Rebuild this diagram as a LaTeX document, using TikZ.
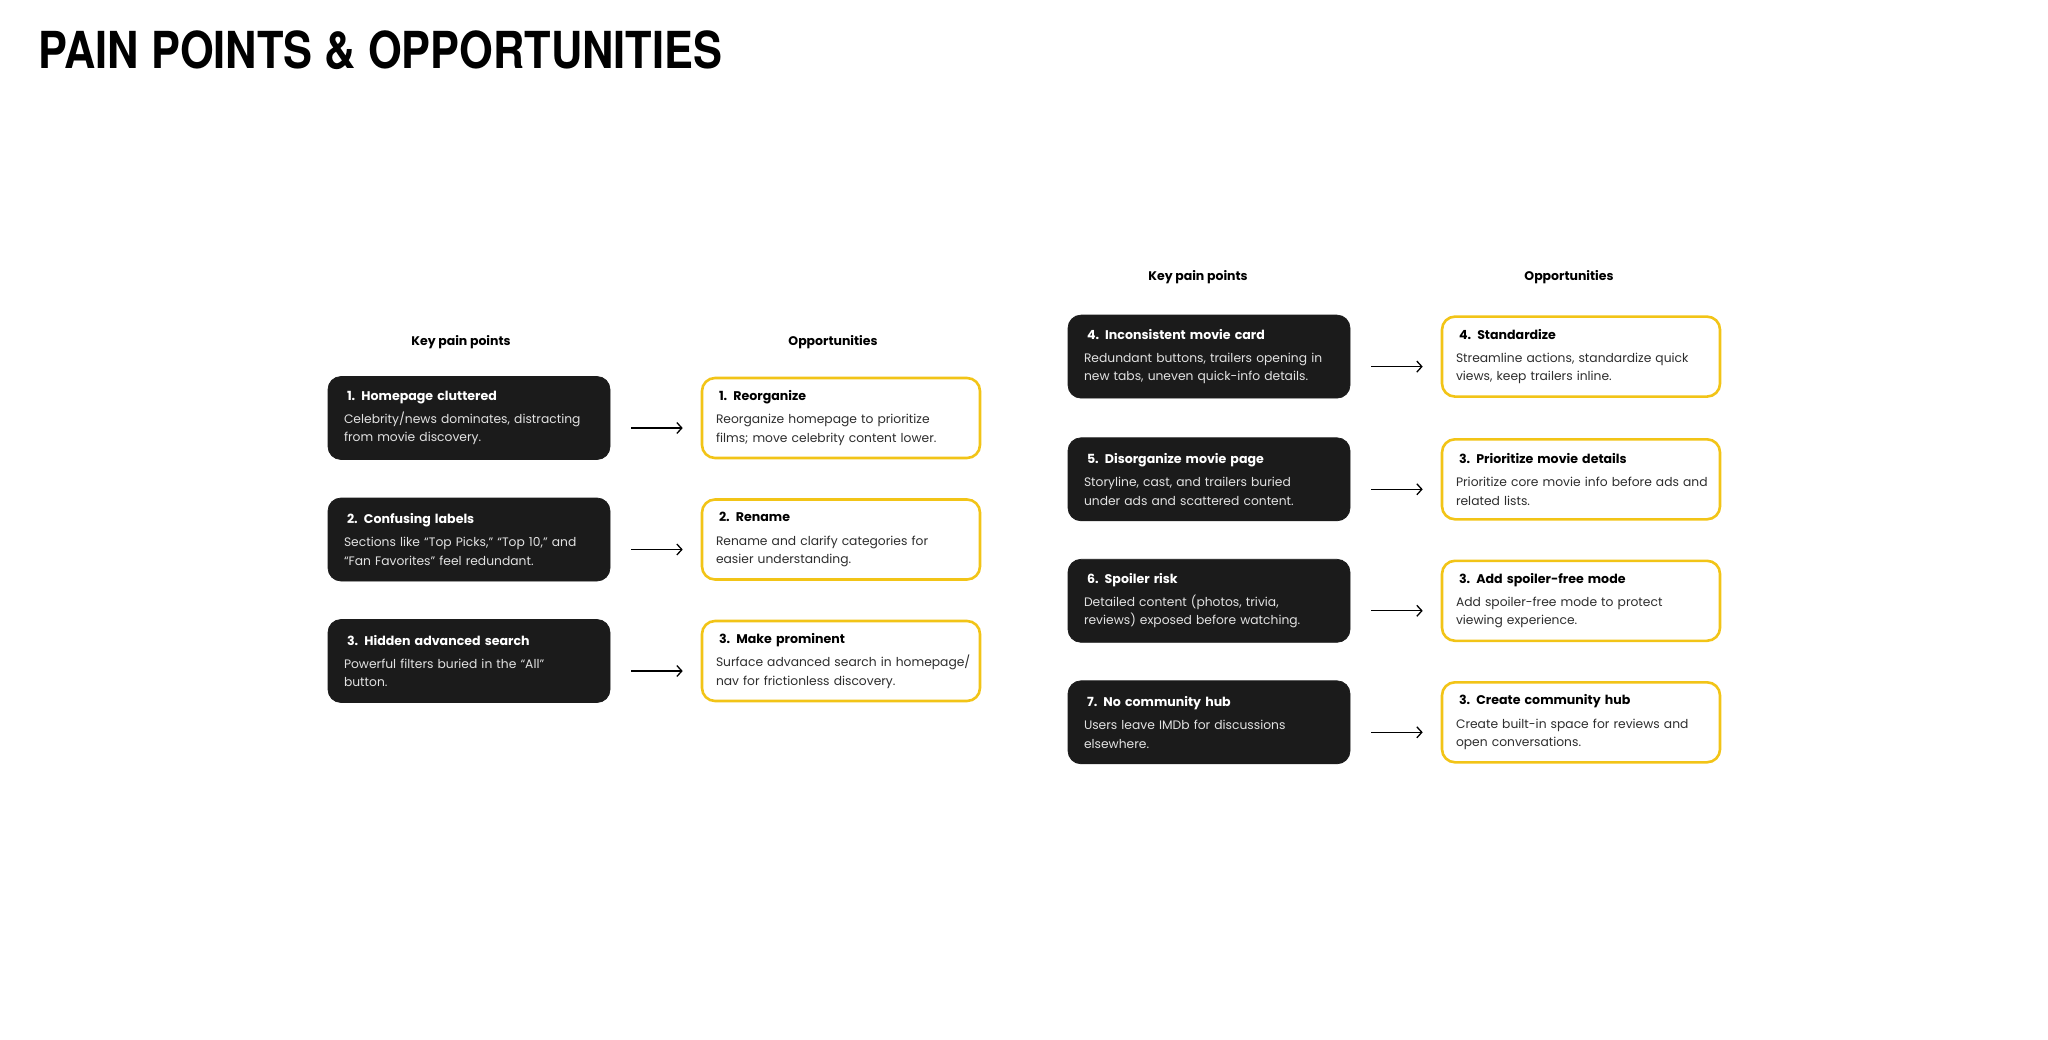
\documentclass[tikz,border=0pt]{standalone}
\usepackage{fontspec}
\setmainfont{Poppins}
\newfontfamily\headfont[FakeStretch=0.85]{TeX Gyre Heros}
\usetikzlibrary{arrows.meta,positioning,calc}
\definecolor{imdbyellow}{HTML}{F2C417}
\definecolor{cardblack}{HTML}{1B1B1B}
\definecolor{cardgrey}{HTML}{E2E2E2}
\definecolor{bodygrey}{HTML}{2E2E2E}
\tikzset{every picture/.style={line width=0.75pt}}
\tikzset{
  painbox/.style={rounded corners=13pt, fill=cardblack, draw=cardblack, minimum width=282pt,
    minimum height=83pt, text width=250pt, align=left, text=cardgrey,
    font=\fontsize{12.3}{18.3}\selectfont},
  oppbox/.style={rounded corners=13pt, fill=white, draw=imdbyellow, line width=2.6pt,
    minimum width=278pt, minimum height=80pt, text width=250pt, align=left, text=bodygrey,
    font=\fontsize{12.3}{18.3}\selectfont},
  colhead/.style={font=\bfseries\fontsize{12.5}{16}\selectfont},
  flow/.style={-{Straight Barb[length=5pt,width=11pt]}, line width=1.3pt},
}
% card text: title, then two body lines
\newcommand{\paincard}[3]{{\color{white}\bfseries\fontsize{12.6}{18}\selectfont\hspace*{3pt}#1}\\[5pt]\mbox{#2}\\\mbox{#3}}
\newcommand{\oppcard}[3]{{\color{black}\bfseries\fontsize{12.6}{18}\selectfont\hspace*{3pt}#1}\\[5pt]\mbox{#2}\\\mbox{#3}}

\begin{document}
\begin{tikzpicture}[x=1pt,y=-1pt]
    \useasboundingbox (0,0) rectangle (2048,1039);
    \node[anchor=base west, inner sep=0, font=\headfont\bfseries\fontsize{51}{51}\selectfont] (title) at (38,68) {PAIN POINTS \& OPPORTUNITIES};

    % left group
    \node[colhead] (headL) at (461,342) {Key pain points};
    \node[colhead] (headR) at (833,342) {Opportunities};
    \node[painbox] (pain1) at (469,418) {\paincard{1. Homepage cluttered}{Celebrity/news dominates, distracting}{from movie discovery.}};
    \node[oppbox] (opp1) at (841,418) {\oppcard{1. Reorganize}{Reorganize homepage to prioritize}{films; move celebrity content lower.}};
    \node[painbox] (pain2) at (469,539.5) {\paincard{2. Confusing labels}{Sections like “Top Picks,” “Top 10,” and}{“Fan Favorites” feel redundant.}};
    \node[oppbox] (opp2) at (841,539.5) {\oppcard{2. Rename}{Rename and clarify categories for}{easier understanding.}};
    \node[painbox] (pain3) at (469,661) {\paincard{3. Hidden advanced search}{Powerful filters buried in the “All”}{button.}};
    \node[oppbox] (opp3) at (841,661) {\oppcard{3. Make prominent}{Surface advanced search in homepage/}{nav for frictionless discovery.}};

    % right group
    \node[colhead] (headL2) at (1198,277) {Key pain points};
    \node[colhead] (headR2) at (1569,277) {Opportunities};
    \node[painbox] (pain4) at (1209,356.6) {\paincard{4. Inconsistent movie card}{Redundant buttons, trailers opening in}{new tabs, uneven quick-info details.}};
    \node[oppbox] (opp4) at (1581,356.6) {\oppcard{4. Standardize}{Streamline actions, standardize quick}{views, keep trailers inline.}};
    \node[painbox] (pain5) at (1209,479.3) {\paincard{5. Disorganize movie page}{Storyline, cast, and trailers buried}{under ads and scattered content.}};
    \node[oppbox] (opp5) at (1581,479.3) {\oppcard{3. Prioritize movie details}{Prioritize core movie info before ads and}{related lists.}};
    \node[painbox] (pain6) at (1209,600.8) {\paincard{6. Spoiler risk}{Detailed content (photos, trivia,}{reviews) exposed before watching.}};
    \node[oppbox] (opp6) at (1581,600.8) {\oppcard{3. Add spoiler-free mode}{Add spoiler-free mode to protect}{viewing experience.}};
    \node[painbox] (pain7) at (1209,722.3) {\paincard{7. No community hub}{Users leave IMDb for discussions}{elsewhere.}};
    \node[oppbox] (opp7) at (1581,722.3) {\oppcard{3. Create community hub}{Create built-in space for reviews and}{open conversations.}};

    % arrows
    \foreach \i in {1,...,7}
        \draw[flow] ([xshift=21pt,yshift=-10pt]pain\i.east) -- ([xshift=-18pt,yshift=-10pt]opp\i.west);
\end{tikzpicture}
\end{document}
